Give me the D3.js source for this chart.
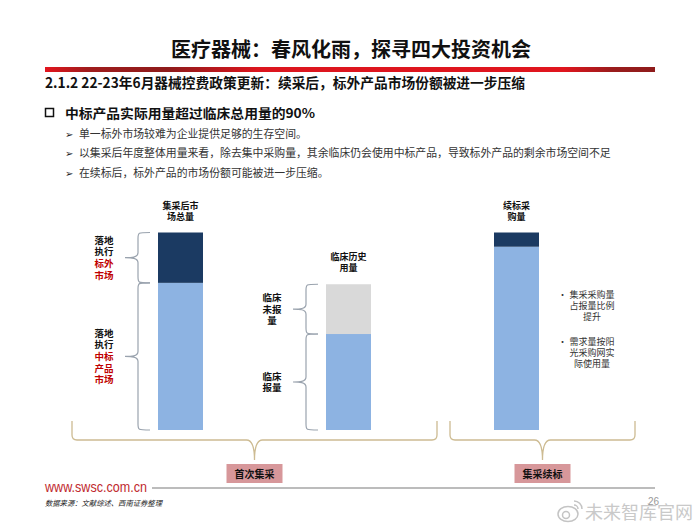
<!DOCTYPE html>
<html>
<head>
<meta charset="utf-8">
<script src="https://cdn.jsdelivr.net/npm/d3@7"></script>
<style>
  body { margin: 0; background: #fff; }
  svg { display: block; font-family: "Noto Sans CJK SC", "Noto Sans", sans-serif; }
</style>
</head>
<body>
<div class="chart"></div>
<script>
// bars
const categories = ["集采后市场总量", "临床历史用量", "续标采购量"];
const categoryLines = [["集采后市", "场总量"], ["临床历史", "用量"], ["续标采", "购量"]];
const baseValues = [74.5, 48.6, 92.8];   // 中标产品 / 临床报量
const topValues = [25.5, 25.2, 7.2];     // 标外市场 / 临床未报量
const topColors = ["#1b3a62", "#d9d9d9", "#1b3a62"];

// brace labels: [category, segment, lines, red line indices]
const braceLabels = [
  [0, "top", ["落地", "执行", "标外", "市场"], [2, 3]],
  [0, "base", ["落地", "执行", "中标", "产品", "市场"], [2, 3, 4]],
  [1, "top", ["临床", "未报", "量"], []],
  [1, "base", ["临床", "报量"], []]
];

const bullets = [
  "单一标外市场较难为企业提供足够的生存空间。",
  "以集采后年度整体用量来看，除去集中采购量，其余临床仍会使用中标产品，导致标外产品的剩余市场空间不足",
  "在续标后，标外产品的市场份额可能被进一步压缩。"
];
const notes = [["集采采购量", "占报量比例", "提升"], ["需求量按阳", "光采购网实", "际使用量"]];
const groups = ["首次集采", "集采续标"];

const width = 700, height = 525;
const svg = d3.select(".chart").append("svg")
  .attr("width", width)
  .attr("height", height);

// header
svg.append("text")
  .attr("x", 351).attr("y", 57)
  .attr("text-anchor", "middle")
  .attr("font-size", 20).attr("font-weight", 700)
  .attr("fill", "#111")
  .text("医疗器械：春风化雨，探寻四大投资机会");

let grad = svg.append("defs").append("linearGradient").attr("id", "redline");
[[0, "#e3151e"], [0.07, "#a01c1c"], [0.2, "#8e1b1b"], [0.35, "#dc151e"], [0.85, "#e0151e"], [0.93, "#9a1c1c"], [1, "#8e1b1b"]]
  .forEach(s => grad.append("stop").attr("offset", s[0]).attr("stop-color", s[1]));
svg.append("rect")
  .attr("x", 45).attr("y", 67).attr("width", 610).attr("height", 5)
  .attr("fill", "url(#redline)");

svg.append("text")
  .attr("x", 45).attr("y", 88)
  .attr("font-size", 14).attr("font-weight", 700)
  .attr("textLength", 480).attr("lengthAdjust", "spacingAndGlyphs")
  .attr("fill", "#111")
  .text("2.1.2 22-23年6月器械控费政策更新：续采后，标外产品市场份额被进一步压缩");

svg.append("rect")
  .attr("x", 45.5).attr("y", 108.5).attr("width", 8).attr("height", 8)
  .attr("fill", "none").attr("stroke", "#111").attr("stroke-width", 1.5);
svg.append("text")
  .attr("x", 65).attr("y", 118)
  .attr("font-size", 13).attr("font-weight", 700)
  .attr("textLength", 250).attr("lengthAdjust", "spacingAndGlyphs")
  .attr("fill", "#111")
  .text("中标产品实际用量超过临床总用量的90%");

let by = [138, 157, 177];
bullets.forEach((b, i) => {
  svg.append("text")
    .attr("x", 65).attr("y", by[i])
    .attr("font-size", 10).attr("fill", "#222")
    .attr("font-family", "DejaVu Sans")
    .text("➢");
  svg.append("text")
    .attr("x", 79).attr("y", by[i])
    .attr("font-size", 10.8).attr("fill", "#333")
    .attr("textLength", b.length * 10.85).attr("lengthAdjust", "spacingAndGlyphs")
    .text(b);
});

// bars
let x = d3.scalePoint().domain(categories).range([180.5, 516.5]);
let y = d3.scaleLinear().domain([0, 100]).range([430, 232.5]);
let barW = 45;

let rows = categories.map((c, i) => ({cat: c, base: baseValues[i], top: topValues[i]}));
let series = d3.stack().keys(["base", "top"])(rows);

svg.selectAll(".layer")
  .data(series)
  .enter().append("g")
    .attr("class", "layer")
  .selectAll("rect")
  .data(d => d.map(p => ({key: d.key, p: p})))
  .enter().append("rect")
    .attr("x", d => x(d.p.data.cat) - barW / 2)
    .attr("width", barW)
    .attr("y", d => y(d.p[1]))
    .attr("height", d => y(d.p[0]) - y(d.p[1]))
    .attr("fill", (d, i) => d.key == "base" ? "#8db3e2" : topColors[i]);

// labels above bars
categories.forEach((c, i) => {
  let top = y(baseValues[i] + topValues[i]);
  categoryLines[i].forEach((t, j) => {
    svg.append("text")
      .attr("x", x(c)).attr("y", top - 24 + j * 11)
      .attr("text-anchor", "middle")
      .attr("font-size", 9).attr("font-weight", 700)
      .attr("fill", "#111")
      .text(t);
  });
});

// side braces
function leftBrace(xr, y0, y1) {
  let xs = xr - 12, xt = xs - 13, ym = (y0 + y1) / 2;
  return `M${xr},${y0} C${xs},${y0} ${xs},${y0} ${xs},${y0 + 6} L${xs},${ym - 5} ` +
    `C${xs},${ym} ${xt + 6},${ym} ${xt},${ym} C${xt + 6},${ym} ${xs},${ym} ${xs},${ym + 5} ` +
    `L${xs},${y1 - 6} C${xs},${y1} ${xs},${y1} ${xr},${y1}`;
}

braceLabels.forEach(b => {
  let i = b[0], c = categories[i];
  let y0 = b[1] == "top" ? y(baseValues[i] + topValues[i]) : y(baseValues[i]);
  let y1 = b[1] == "top" ? y(baseValues[i]) : y(0);
  let xr = x(c) - barW / 2 - 8;
  svg.append("path")
    .attr("d", leftBrace(xr, y0, y1))
    .attr("fill", "none")
    .attr("stroke", "#9aa3ae")
    .attr("stroke-width", 1.2);
  let ym = (y0 + y1) / 2;
  let n = b[2].length;
  b[2].forEach((t, j) => {
    svg.append("text")
      .attr("x", xr - 46).attr("y", ym - (n - 1) * 11.7 / 2 + j * 11.7 + 3.5)
      .attr("text-anchor", "middle")
      .attr("font-size", 9.5).attr("font-weight", 700)
      .attr("fill", b[3].includes(j) ? "#c00000" : "#111")
      .text(t);
  });
});

// notes on the right
let ny = [295, 342];
notes.forEach((n, i) => {
  svg.append("text")
    .attr("x", 558).attr("y", ny[i] + 3)
    .attr("font-size", 9).attr("fill", "#333")
    .text("•");
  n.forEach((t, j) => {
    svg.append("text")
      .attr("x", 592).attr("y", ny[i] + j * 11 + 3)
      .attr("text-anchor", "middle")
      .attr("font-size", 9).attr("fill", "#333")
      .text(t);
  });
});

// bottom braces
function downBrace(x0, x1, yTop, yH, yTip) {
  let xm = (x0 + x1) / 2, r = 5;
  return `M${x0},${yTop} L${x0},${yH - r} Q${x0},${yH} ${x0 + r},${yH} L${xm - 8},${yH} ` +
    `Q${xm},${yH} ${xm},${yTip} Q${xm},${yH} ${xm + 8},${yH} L${x1 - r},${yH} Q${x1},${yH} ${x1},${yH - r} L${x1},${yTop}`;
}
let spans = [[72, 437], [450, 635]];
groups.forEach((g, i) => {
  let s = spans[i], xm = (s[0] + s[1]) / 2;
  svg.append("path")
    .attr("d", downBrace(s[0], s[1], 421, 440, 460))
    .attr("fill", "none")
    .attr("stroke", "#cdbb92")
    .attr("stroke-width", 1.3);
  svg.append("rect")
    .attr("x", xm - 28).attr("y", 464).attr("width", 56).attr("height", 19)
    .attr("fill", "#d7979a");
  svg.append("text")
    .attr("x", xm).attr("y", 477.5)
    .attr("text-anchor", "middle")
    .attr("font-size", 10).attr("font-weight", 700)
    .attr("fill", "#111")
    .text(g);
});

// footer
svg.append("text")
  .attr("x", 45).attr("y", 492)
  .attr("font-family", "Liberation Sans")
  .attr("font-size", 14).attr("fill", "#c0282d")
  .attr("textLength", 102).attr("lengthAdjust", "spacingAndGlyphs")
  .text("www.swsc.com.cn");
svg.append("line")
  .attr("x1", 152).attr("x2", 655).attr("y1", 488).attr("y2", 488)
  .attr("stroke", "#a6a6a6").attr("stroke-width", 1.5);
svg.append("text")
  .attr("x", 45).attr("y", 506)
  .attr("font-size", 7.5).attr("font-style", "italic")
  .attr("fill", "#222")
  .attr("textLength", 117).attr("lengthAdjust", "spacingAndGlyphs")
  .text("数据来源：文献综述、西南证券整理");

// watermark
let wm = svg.append("g").attr("fill", "none").attr("stroke", "#c4c4c4").attr("stroke-width", 1.5);
wm.append("ellipse").attr("cx", 568).attr("cy", 514).attr("rx", 10).attr("ry", 7.5);
wm.append("circle").attr("cx", 566).attr("cy", 515).attr("r", 3.5);
wm.append("path").attr("d", "M574,501 A8,8 0 0 1 582,509 M574,505 A4,4 0 0 1 578,509");
svg.append("text")
  .attr("x", 585).attr("y", 519)
  .attr("font-size", 18).attr("fill", "#c9c9c9")
  .attr("textLength", 108).attr("lengthAdjust", "spacingAndGlyphs")
  .text("未来智库官网");
svg.append("text")
  .attr("x", 648).attr("y", 505)
  .attr("font-size", 10).attr("fill", "#999")
  .attr("font-family", "Liberation Sans")
  .text("26");
</script>
</body>
</html>
